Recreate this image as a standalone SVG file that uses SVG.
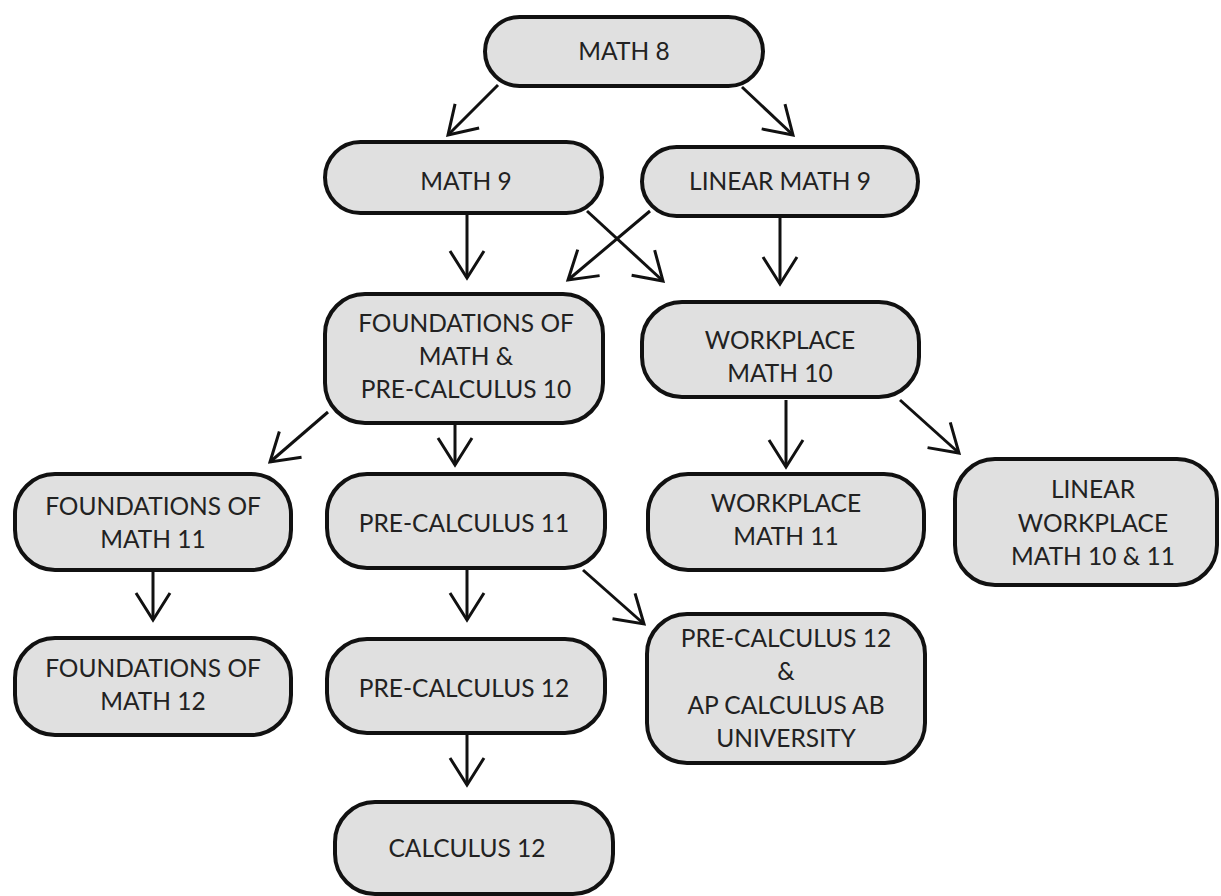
<svg xmlns="http://www.w3.org/2000/svg" width="1221" height="896" viewBox="0 0 1221 896">
<defs>
<style>
.node rect{fill:#e0e0e0;stroke:#111;stroke-width:4}
.node text{font-family:Lato,"Liberation Sans",sans-serif;font-size:24.5px;fill:#222;text-anchor:middle}
.edges line{stroke:#111;stroke-width:3;fill:none;marker-end:url(#ah)}
</style>
<marker id="ah" markerUnits="userSpaceOnUse" viewBox="-32 -22 36 44" markerWidth="36" markerHeight="44" refX="0" refY="0" orient="auto">
<path d="M-27,-17 L0,0 L-27,17" fill="none" stroke="#111" stroke-width="3"/>
</marker>
</defs>
<rect width="1221" height="896" fill="#fff"/>
<g class="edges" id="connectors">
<line x1="498" y1="85" x2="448" y2="135"/>
<line x1="742" y1="87" x2="793" y2="135"/>
<line x1="467" y1="215" x2="467" y2="278"/>
<line x1="587" y1="211" x2="663" y2="281"/>
<line x1="650" y1="211" x2="568" y2="280"/>
<line x1="780" y1="218" x2="780" y2="284"/>
<line x1="328" y1="412" x2="270" y2="462"/>
<line x1="455" y1="425" x2="455" y2="465"/>
<line x1="786" y1="400" x2="786" y2="467"/>
<line x1="900" y1="400" x2="959" y2="453"/>
<line x1="153" y1="572" x2="153" y2="620"/>
<line x1="467" y1="570" x2="467" y2="620"/>
<line x1="583" y1="570" x2="644" y2="624"/>
<line x1="467" y1="735" x2="467" y2="785"/>
</g>
<g class="node" id="math8"><rect x="485" y="17" width="278" height="69" rx="34.5"/><text x="624" y="60">MATH 8</text></g>
<g class="node" id="math9"><rect x="325" y="142" width="277" height="71" rx="35.5"/><text x="466" y="190">MATH 9</text></g>
<g class="node" id="linear9"><rect x="642" y="147" width="276" height="69" rx="34.5"/><text x="780" y="190">LINEAR MATH 9</text></g>
<g class="node" id="found10"><rect x="325" y="294" width="278" height="129" rx="40"/><text x="466" y="332">FOUNDATIONS OF</text><text x="466" y="365">MATH &amp;</text><text x="466" y="398">PRE-CALCULUS 10</text></g>
<g class="node" id="work10"><rect x="642" y="302" width="277" height="95" rx="40"/><text x="780" y="349">WORKPLACE</text><text x="780" y="382">MATH 10</text></g>
<g class="node" id="found11"><rect x="15" y="474" width="276" height="96" rx="40"/><text x="153" y="515">FOUNDATIONS OF</text><text x="153" y="548">MATH 11</text></g>
<g class="node" id="precalc11"><rect x="327" y="474" width="278" height="94" rx="40"/><text x="464" y="532">PRE-CALCULUS 11</text></g>
<g class="node" id="work11"><rect x="648" y="474" width="276" height="96" rx="40"/><text x="786" y="512">WORKPLACE</text><text x="786" y="545">MATH 11</text></g>
<g class="node" id="linearwork"><rect x="955" y="459" width="262" height="126" rx="40"/><text x="1093" y="498">LINEAR</text><text x="1093" y="532">WORKPLACE</text><text x="1093" y="565">MATH 10 &amp; 11</text></g>
<g class="node" id="found12"><rect x="15" y="638" width="276" height="97" rx="40"/><text x="153" y="677">FOUNDATIONS OF</text><text x="153" y="710">MATH 12</text></g>
<g class="node" id="precalc12"><rect x="327" y="639" width="278" height="94" rx="40"/><text x="464" y="697">PRE-CALCULUS 12</text></g>
<g class="node" id="precalc12ap"><rect x="647" y="614" width="278" height="149" rx="40"/><text x="786" y="647">PRE-CALCULUS 12</text><text x="786" y="680">&amp;</text><text x="786" y="714">AP CALCULUS AB</text><text x="786" y="747">UNIVERSITY</text></g>
<g class="node" id="calc12"><rect x="335" y="802" width="278" height="92" rx="40"/><text x="467" y="857">CALCULUS 12</text></g>
</svg>
